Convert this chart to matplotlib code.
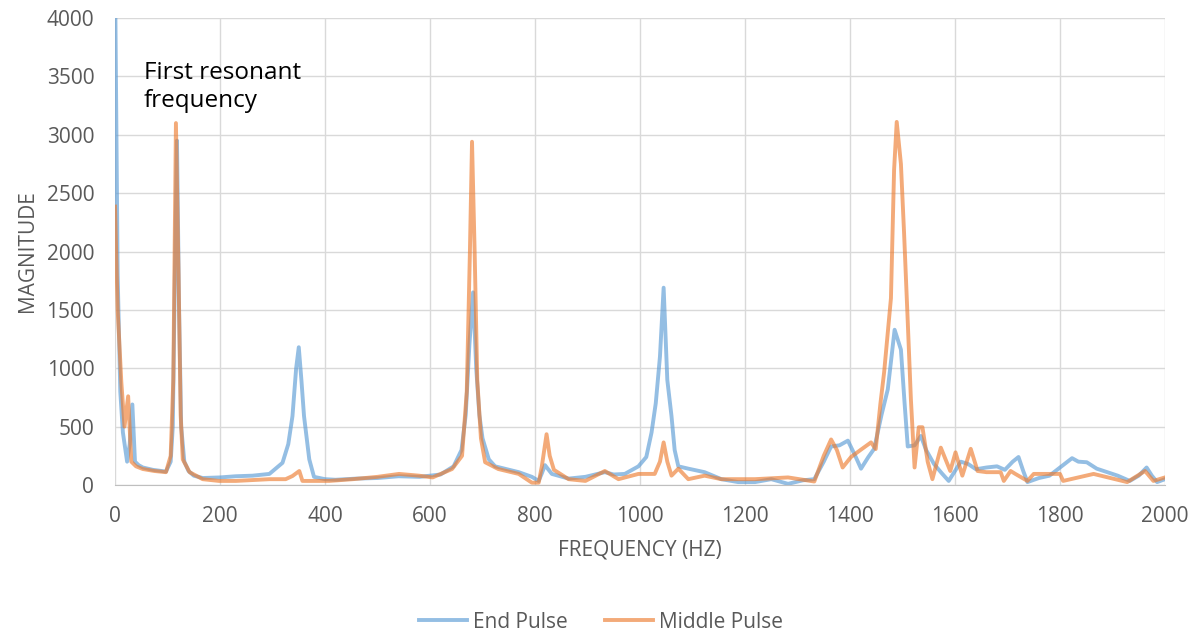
import matplotlib
matplotlib.use("Agg")
import matplotlib.pyplot as plt

plt.rcParams['font.family'] = ['Open Sans', 'DejaVu Sans']

# End Pulse (blue)
end_freq = [0, 5, 10, 15, 23, 28, 33, 38, 45, 53, 72, 97, 106, 110, 114, 118, 122, 126,
            132, 140, 150, 167, 200, 230, 262, 294, 319, 330, 338, 345, 350, 355, 360,
            370, 379, 400, 420, 460, 500, 540, 580, 620, 645, 660, 668, 675, 682, 688,
            694, 700, 712, 724, 769, 794, 807, 813, 819, 826, 832, 864, 896, 933, 950,
            971, 997, 1012, 1022, 1030, 1038, 1045, 1052, 1060, 1066, 1073, 1092, 1123,
            1155, 1187, 1219, 1250, 1282, 1310, 1332, 1350, 1364, 1380, 1396, 1410,
            1421, 1435, 1446, 1460, 1472, 1485, 1497, 1504, 1510, 1523, 1535, 1545,
            1560, 1575, 1588, 1600, 1611, 1625, 1640, 1660, 1680, 1695, 1710, 1721,
            1730, 1738, 1760, 1780, 1800, 1823, 1835, 1851, 1870, 1890, 1910, 1933,
            1950, 1965, 1975, 1985, 2000]
end_mag = [4400, 1800, 800, 450, 200, 350, 690, 200, 170, 150, 130, 115, 200, 500, 1800,
           2950, 1500, 500, 200, 120, 80, 60, 65, 75, 80, 95, 190, 350, 590, 1000, 1180,
           900, 590, 220, 70, 50, 45, 55, 60, 75, 70, 90, 160, 300, 600, 1200, 1650,
           1000, 600, 400, 220, 160, 110, 70, 35, 100, 170, 130, 95, 55, 70, 110, 90,
           95, 160, 240, 450, 700, 1100, 1690, 900, 590, 300, 160, 140, 110, 50, 25, 25,
           50, 10, 40, 50, 200, 330, 340, 380, 250, 140, 240, 310, 600, 820, 1330, 1160,
           700, 330, 340, 420, 300, 180, 100, 35, 120, 200, 180, 135, 150, 160, 130,
           200, 240, 120, 25, 60, 80, 150, 230, 200, 195, 140, 110, 80, 35, 80, 150, 80,
           25, 50]

# Middle Pulse (orange)
mid_freq = [0, 5, 12, 18, 25, 31, 40, 53, 75, 97, 106, 111, 116, 121, 125, 129, 142, 167,
            198, 230, 294, 325, 338, 351, 357, 408, 453, 500, 541, 579, 605, 642, 661,
            670, 676, 680, 685, 690, 697, 705, 730, 769, 794, 807, 813, 822, 828, 836,
            864, 896, 933, 959, 997, 1028, 1038, 1045, 1052, 1060, 1073, 1092, 1123,
            1155, 1219, 1282, 1332, 1350, 1364, 1375, 1386, 1402, 1420, 1440, 1449,
            1458, 1465, 1478, 1484, 1489, 1497, 1503, 1510, 1516, 1523, 1531, 1538,
            1548, 1557, 1573, 1591, 1601, 1614, 1630, 1643, 1660, 1687, 1693, 1706,
            1715, 1738, 1750, 1800, 1806, 1864, 1928, 1962, 1978, 2000]
mid_mag = [2385, 1500, 880, 500, 760, 200, 160, 137, 120, 110, 250, 900, 3100, 1800, 600,
           220, 110, 50, 35, 35, 50, 50, 77, 120, 35, 35, 50, 70, 95, 80, 65, 137, 250,
           800, 2000, 2940, 2000, 900, 400, 195, 137, 95, 20, 20, 160, 435, 250, 130, 50,
           35, 120, 50, 95, 95, 200, 365, 200, 80, 140, 50, 80, 50, 50, 65, 30, 250, 390,
           300, 150, 240, 300, 365, 308, 700, 965, 1600, 2700, 3110, 2750, 2160, 1400,
           735, 150, 495, 495, 200, 50, 320, 120, 280, 80, 310, 120, 110, 110, 35, 120,
           95, 35, 95, 95, 35, 95, 25, 120, 35, 65]

x_ticks = [0, 200, 400, 600, 800, 1000, 1200, 1400, 1600, 1800, 2000]
y_ticks = [0, 500, 1000, 1500, 2000, 2500, 3000, 3500, 4000]

fig = plt.figure(figsize=(12.02, 6.36), dpi=100)
ax = fig.add_axes([0.0957, 0.2374, 0.8735, 0.7343])

ax.plot(end_freq, end_mag, color='#5B9BD5', alpha=0.65, linewidth=2.8,
        label='End Pulse', solid_joinstyle='round')
ax.plot(mid_freq, mid_mag, color='#ED7D31', alpha=0.65, linewidth=2.8,
        label='Middle Pulse', solid_joinstyle='round')

ax.set_xlim(0, 2000)
ax.set_ylim(0, 4000)
ax.set_xticks(x_ticks)
ax.set_yticks(y_ticks)
ax.grid(True, color='#D9D9D9', linewidth=1)
ax.set_axisbelow(True)
for side in ['top', 'right', 'left']:
    ax.spines[side].set_visible(False)
ax.spines['bottom'].set_color('#BFBFBF')
ax.tick_params(length=0, labelsize=15, colors='#595959')
ax.tick_params(axis='x', pad=15)
ax.tick_params(axis='y', pad=15)

ax.set_xlabel('FREQUENCY (HZ)', fontsize=15, color='#595959', labelpad=9)
ax.set_ylabel('MAGNITUDE', fontsize=15, color='#595959', labelpad=6)

ax.text(55, 3630, 'First resonant\nfrequency', fontsize=17.5, color='black',
        va='top', ha='left', linespacing=1.22)

leg = fig.legend(loc='center', bbox_to_anchor=(0.5, 0.022), ncol=2, frameon=False,
                 fontsize=15, handlelength=2.3, columnspacing=1.8, handletextpad=0.3)
for t in leg.get_texts():
    t.set_color('#595959')

fig.savefig('out.png', dpi=100)
